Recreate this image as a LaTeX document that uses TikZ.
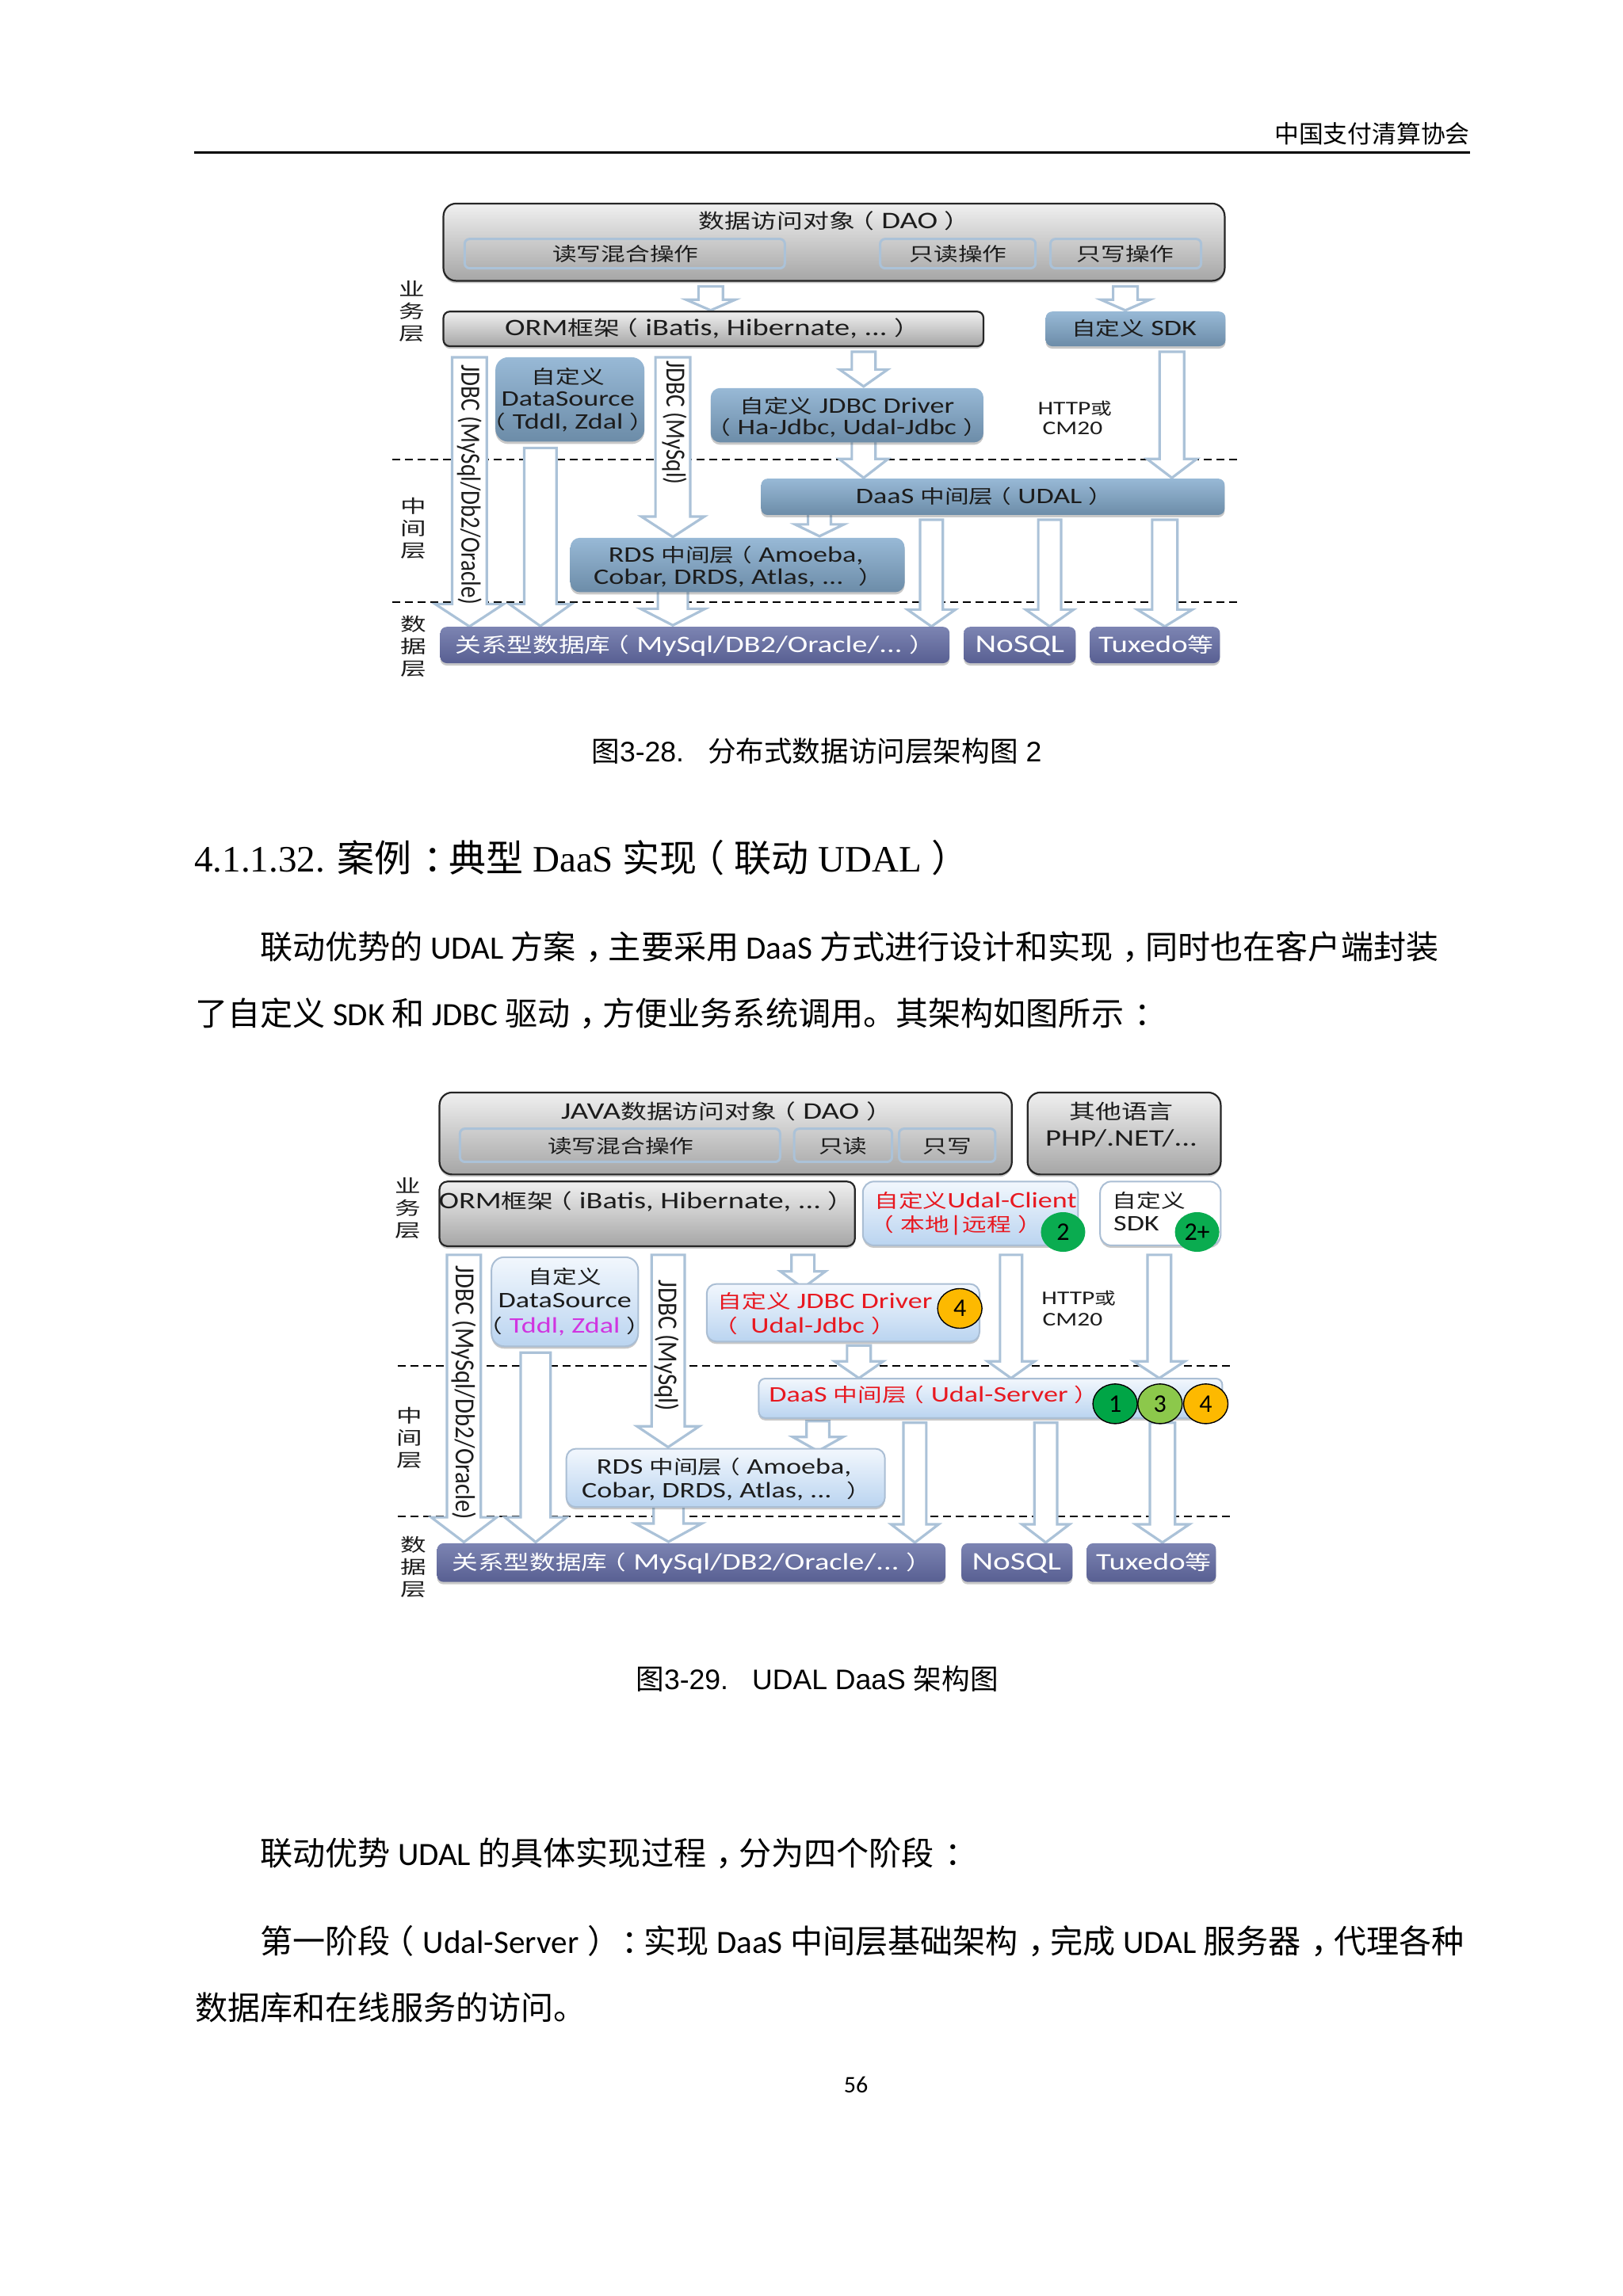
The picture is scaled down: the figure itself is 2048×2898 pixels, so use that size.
\documentclass[tikz,border=0pt]{standalone}
\usepackage{fontspec}
\usepackage{graphicx}
\usetikzlibrary{shapes.geometric,shadows}
\setmainfont{Carlito}
\newfontfamily\libserif{Liberation Serif}
\newfontfamily\libsans{Liberation Sans}
\newfontfamily\cjkmain{Noto Sans CJK SC}
\newfontfamily\cjkdiag[Scale=0.85]{Noto Sans CJK SC}
\let\cjkcur\cjkmain
% automatic font switching for CJK characters
\newXeTeXintercharclass\cjkclass
\newcount\chrloop
\chrloop="3000 \loop\ifnum\chrloop<"3040 \XeTeXcharclass\chrloop=\cjkclass \advance\chrloop by 1 \repeat
\chrloop="4E00 \loop\ifnum\chrloop<"A000 \XeTeXcharclass\chrloop=\cjkclass \advance\chrloop by 1 \repeat
\chrloop="FF00 \loop\ifnum\chrloop<"FFF0 \XeTeXcharclass\chrloop=\cjkclass \advance\chrloop by 1 \repeat
\XeTeXinterchartoks 0 \cjkclass={\begingroup\cjkcur}
\XeTeXinterchartoks 4095 \cjkclass={\begingroup\cjkcur}
\XeTeXinterchartoks \cjkclass 0={\endgroup}
\XeTeXinterchartoks \cjkclass 4095={\endgroup}
\XeTeXinterchartokenstate=1
% fullwidth punctuation with its ink centred in the em box, as printed
\newcommand\LPar{{\cjkcur\kern-.27em（\kern.27em}}
\newcommand\RPar{{\cjkcur\kern.27em）\kern-.27em}}
\newcommand\CMa{{\cjkcur\kern.3em，\kern-.3em}}
\newcommand\CLn{{\cjkcur\kern.32em：\kern-.32em}}
\definecolor{arrowc}{HTML}{ABC2D8}
\definecolor{txtc}{HTML}{1C1C1C}
\definecolor{redt}{HTML}{E81820}
\definecolor{magt}{HTML}{D035E0}
\tikzset{
 softshadow/.style={drop shadow={shadow xshift=0pt,shadow yshift=-1.5pt,opacity=.3,fill=black!70}},
 graybox/.style={rectangle,draw=black!85,line width=1.1pt,top color=black!6,bottom color=black!35,softshadow},
 bluebox/.style={rectangle,top color={rgb,255:red,152;green,185;blue,214},bottom color={rgb,255:red,108;green,140;blue,168},softshadow},
 lightbox/.style={rectangle,draw={rgb,255:red,170;green,190;blue,212},line width=1pt,top color={rgb,255:red,242;green,247;blue,253},bottom color={rgb,255:red,186;green,212;blue,240},softshadow},
 whitebox/.style={rectangle,draw={rgb,255:red,170;green,190;blue,212},line width=1pt,fill=white,softshadow},
 dbbox/.style={rectangle,top color={rgb,255:red,124;green,132;blue,178},bottom color={rgb,255:red,88;green,95;blue,146},softshadow},
 innerbox/.style={rectangle,draw=arrowc,line width=1.5pt},
 dtxt/.style={anchor=base,inner sep=0pt,text=txtc,font=\fontsize{14}{16}\selectfont\let\cjkcur\cjkdiag},
 ttxt/.style={dtxt,font=\fontsize{15}{17}\selectfont\let\cjkcur\cjkdiag},
 ormtxt/.style={dtxt,font=\fontsize{14.9}{17}\selectfont\let\cjkcur\cjkdiag},
 dbtxt/.style={dtxt,text=white,font=\fontsize{14.9}{17}\selectfont\let\cjkcur\cjkdiag},
 dbbig/.style={dtxt,text=white,font=\fontsize{16}{18}\selectfont\let\cjkcur\cjkdiag},
 dbmid/.style={dtxt,text=white,font=\fontsize{15}{18}\selectfont\let\cjkcur\cjkdiag},
 stxt/.style={dtxt,font=\fontsize{12.2}{14}\selectfont\let\cjkcur\cjkdiag},
 rtxt/.style={anchor=center,inner sep=0pt,rotate=-90,text=txtc,font=\fontsize{13.5}{16}\selectfont},
 sidetxt/.style={anchor=center,inner sep=0pt,text=txtc,font=\fontsize{13.5}{14}\selectfont\let\cjkcur\cjkdiag},
 badge/.style={ellipse,inner sep=0pt,minimum width=28pt,minimum height=25pt,text=black,font=\fontsize{16}{18}\selectfont},
 blockarrow/.style={draw=arrowc,fill=white,line width=1.6pt,line join=miter},
 layerline/.style={draw=black,line width=.9pt,dash pattern=on 5pt off 3pt},
 bodytxt/.style={anchor=base west,inner sep=0pt,text=black,font=\fontsize{20.55}{24}\selectfont},
 captxt/.style={anchor=base west,inner sep=0pt,text=black,font=\fontsize{17.8}{22}\selectfont\libsans},
 headtxt/.style={anchor=base west,inner sep=0pt,text=black,font=\fontsize{23.5}{28}\selectfont\libserif},
}
\newcounter{lbl}
% box: name, style, x1,y1,x2,y2
\newcommand\bx[7][4pt]{\node[#3,rounded corners=#1,inner sep=0pt,minimum width={(#6-#4)*0.4974pt},minimum height={(#7-#5)*0.4975pt}] (#2) at ({(#4+#6)/2},{(#5+#7)/2}) {};}
% text line: style, x, y(centre), text
\newcommand\tl[5][1.29]{\stepcounter{lbl}\node[#2] (L\arabic{lbl}) at (#3,{#4+9}) {\scalebox{#1}[1]{#5}};}
% rotated text: x, y, along-scale, text
\newcommand\rt[4]{\stepcounter{lbl}\node[rtxt] (L\arabic{lbl}) at (#1,#2) {\scalebox{#3}[1.29]{#4}};}
% side label
\newcommand\sd[5]{\stepcounter{lbl}\node[sidetxt] (L\arabic{lbl}) at (#1,#2) {\scalebox{1.42}[1]{\vbox{\baselineskip=14pt\hbox{#3}\hbox{#4}\hbox{#5}}}};}
% block arrow: name, x, ytop, yshaftend, ytip, shaft, head
\newcommand\barr[7]{\coordinate (#1-s) at (#2,#3);\coordinate (#1-t) at (#2,#5);
 \draw[blockarrow] ({#2-#6/2},#3) -- ({#2+#6/2},#3) -- ({#2+#6/2},#4) -- ({#2+#7/2},#4) -- (#1-t) -- ({#2-#7/2},#4) -- ({#2-#6/2},#4) -- cycle;}
\begin{document}
\begin{tikzpicture}[x=0.5pt,y=-0.5pt]
\useasboundingbox (0,0) rectangle (2048,2898);
\fill[white] (0,0) rectangle (2048,2898);
% page header
\node[anchor=base east,inner sep=0pt,font=\fontsize{15.4}{18}\selectfont] (hdr) at (1855,180) {中国支付清算协会};
\coordinate (ruleL) at (244.5,192.5); \coordinate (ruleR) at (1855,192.5);
\draw[line width=1.5pt] (ruleL) -- (ruleR);

%%%%%%%%%%%%%%%%%% diagram 1
\begin{scope}[x=0.4974pt,y=-0.4975pt,xshift=1.22pt,yshift=-0.6pt]
\coordinate (d1a) at (495,582); \coordinate (d1b) at (1569,582);
\coordinate (d1c) at (495,763); \coordinate (d1d) at (1569,763);
\draw[layerline] (d1a) -- (d1b); \draw[layerline] (d1c) -- (d1d);
\barr{a1}{899}{362}{379}{392.5}{31}{62}
\barr{a2}{1425}{362}{379}{392.5}{31}{62}
\barr{a3}{593}{452}{765}{793.5}{44}{87}
\barr{a4}{683}{567}{765}{793}{41}{79}
\barr{a5}{851}{452}{654}{680}{44}{80}
\barr{a6}{1093}{445}{467.5}{489}{30}{61}
\barr{a7}{1093}{558}{581}{605}{30}{62}
\barr{a8}{1484}{445}{581}{605}{31}{63}
\barr{a9}{1037}{648}{664}{679}{29}{62}
\barr{a10}{851}{748}{771}{792}{38}{82}
\barr{a11}{1179}{658}{772}{793.5}{29}{61}
\barr{a12}{1329}{658}{772}{793.5}{29}{61}
\barr{a13}{1475}{658}{772}{793.5}{32}{70}
\bx[8pt]{dao}{graybox}{560}{257}{1551}{355}
\bx[3pt]{in1}{innerbox}{587}{302}{993}{339}
\bx[3pt]{in2}{innerbox}{1114}{302}{1311}{339}
\bx[3pt]{in3}{innerbox}{1330}{302}{1521}{339}
\bx[4pt]{orm}{graybox}{560}{394}{1245}{438}
\bx[4pt]{sdk}{bluebox}{1324}{394}{1552}{438}
\bx[8pt]{ds}{bluebox}{626}{452}{815}{559}
\bx[6pt]{drv}{bluebox}{899}{491}{1245}{560}
\bx[4pt]{daas}{bluebox}{963}{606}{1551}{652}
\bx[6pt]{rds}{bluebox}{721}{681}{1145}{750}
\bx[4pt]{db}{dbbox}{556}{794}{1202}{840}
\bx[4pt]{nosql}{dbbox}{1220}{794}{1362}{840}
\bx[4pt]{tux}{dbbox}{1380}{794}{1545}{840}
\tl{ttxt}{1052}{280}{数据访问对象\LPar DAO\RPar}
\tl{dtxt}{791}{321}{读写混合操作}
\tl{dtxt}{1213}{321}{只读操作}
\tl{dtxt}{1425}{321}{只写操作}
\tl{ormtxt}{897}{415}{ORM框架\LPar iBatis, Hibernate, ...\RPar}
\tl{dtxt}{1436}{415}{自定义 SDK}
\tl{dtxt}{718}{477}{自定义}
\tl{dtxt}{718}{505}{DataSource}
\tl{dtxt}{718}{534}{\LPar Tddl, Zdal\RPar}
\tl{dtxt}{1072}{513.5}{自定义 JDBC Driver}
\tl{dtxt}{1072}{541}{\LPar Ha-Jdbc, Udal-Jdbc\RPar}
\tl{stxt}{1361}{516}{HTTP或}
\tl{stxt}{1358}{541}{CM20}
\tl{dtxt}{1242}{628}{DaaS 中间层\LPar UDAL\RPar}
\tl{dtxt}{931}{703}{RDS 中间层\LPar Amoeba,}
\tl{dtxt}{930}{731}{Cobar, DRDS, Atlas, ... \RPar}
\tl{dbtxt}{875}{817}{关系型数据库\LPar MySql/DB2/Oracle/...\RPar}
\tl{dbbig}{1291}{817}{NoSQL}
\tl{dbmid}{1464}{817}{Tuxedo等}
\rt{593}{614}{1.08}{JDBC (MySql/Db2/Oracle)}
\rt{853}{535}{1.08}{JDBC (MySql)}
\sd{520}{394}{业}{务}{层}
\sd{522}{669}{中}{间}{层}
\sd{522}{819}{数}{据}{层}
\end{scope}

%%%%%%%%%%%%%%%%%% diagram 2
\begin{scope}[x=0.4974pt,y=-0.4974pt,xshift=1.22pt,yshift=-3.53pt]
\coordinate (d2a) at (502,1726); \coordinate (d2b) at (1560,1726);
\coordinate (d2c) at (502,1917); \coordinate (d2d) at (1560,1917);
\draw[layerline] (d2a) -- (d2b); \draw[layerline] (d2c) -- (d2d);
\barr{b1}{586}{1585}{1918}{1949.5}{43}{83}
\barr{b2}{677}{1709}{1918}{1949.5}{38}{78}
\barr{b3}{845}{1585}{1802.5}{1829}{42}{79}
\barr{b4}{1016}{1585}{1606}{1627}{29}{57}
\barr{b5}{1087}{1700}{1720}{1741.5}{30}{62}
\barr{b6}{1280}{1585}{1720}{1741.5}{28}{60}
\barr{b7}{1468}{1585}{1720}{1741.5}{30}{65}
\barr{b8}{1035}{1796}{1816}{1834}{29}{64}
\barr{b9}{845.5}{1903}{1926}{1949}{38}{84}
\barr{b10}{1158}{1798}{1927}{1950}{29}{60}
\barr{b11}{1324}{1798}{1927}{1950}{29}{60}
\barr{b12}{1472}{1798}{1927}{1950}{32}{68}
\bx[8pt]{jdao}{graybox}{555}{1379}{1281}{1483}
\bx[3pt]{jin1}{innerbox}{581}{1425}{987}{1467}
\bx[3pt]{jin2}{innerbox}{1005}{1425}{1129}{1467}
\bx[3pt]{jin3}{innerbox}{1138}{1425}{1260}{1467}
\bx[8pt]{other}{graybox}{1301}{1379}{1546}{1483}
\bx[5pt]{jorm}{graybox}{555}{1492}{1082}{1574}
\bx[7pt]{client}{lightbox}{1092}{1492}{1365}{1573}
\bx[7pt]{jsdk}{whitebox}{1393}{1492}{1546}{1573}
\bx[8pt]{jds}{lightbox}{621}{1588}{807}{1701}
\bx[6pt]{jdrv}{lightbox}{894}{1622}{1240}{1695}
\bx[4pt]{jdaas}{lightbox}{960}{1742}{1548}{1792}
\bx[6pt]{jrds}{lightbox}{716}{1831}{1120}{1905}
\bx[4pt]{jdb}{dbbox}{552}{1951}{1197}{2000}
\bx[4pt]{jnosql}{dbbox}{1217}{1951}{1358}{2000}
\bx[4pt]{jtux}{dbbox}{1376}{1951}{1540}{2000}
\tl{ttxt}{915}{1404}{JAVA数据访问对象\LPar DAO\RPar}
\tl{dtxt}{785}{1447}{读写混合操作}
\tl{dtxt}{1067}{1447}{只读}
\tl{dtxt}{1199}{1447}{只写}
\tl{ttxt}{1420}{1404}{其他语言}
\tl{ttxt}{1420}{1438}{PHP/.NET/...}
\tl{ormtxt}{813}{1517}{ORM框架\LPar iBatis, Hibernate, ...\RPar}
\tl{dtxt,text=redt}{1235}{1516}{自定义Udal-Client}
\tl{dtxt,text=redt}{1210}{1546}{\LPar 本地|远程\RPar}
\tl{dtxt}{1455}{1516}{自定义}
\tl{dtxt}{1439}{1545}{SDK}
\tl{dtxt}{714}{1613}{自定义}
\tl{dtxt}{714}{1643}{DataSource}
\tl{dtxt}{714}{1675}{\LPar{\color{magt}Tddl, Zdal}\RPar}
\tl{dtxt,text=redt}{1044}{1644}{自定义 JDBC Driver}
\tl{dtxt,text=redt}{1018}{1675}{\LPar\ Udal-Jdbc\RPar}
\tl{stxt}{1366}{1639}{HTTP或}
\tl{stxt}{1358}{1666}{CM20}
\tl{dtxt,text=redt}{1178}{1763}{DaaS 中间层\LPar Udal-Server\RPar}
\tl{dtxt}{916}{1854}{RDS 中间层\LPar Amoeba,}
\tl{dtxt}{915}{1884}{Cobar, DRDS, Atlas, ... \RPar}
\tl{dbtxt}{871}{1976}{关系型数据库\LPar MySql/DB2/Oracle/...\RPar}
\tl{dbbig}{1287}{1976}{NoSQL}
\tl{dbmid}{1461}{1976}{Tuxedo等}
\rt{586}{1760}{1.14}{JDBC (MySql/Db2/Oracle)}
\rt{843}{1700}{1.145}{JDBC (MySql)}
\sd{515}{1526}{业}{务}{层}
\sd{517}{1817}{中}{间}{层}
\sd{522}{1981}{数}{据}{层}
\node[badge,fill={rgb,255:red,10;green,172;blue,80}] (c2) at (1346,1556) {2};
\node[badge,fill={rgb,255:red,10;green,172;blue,80}] (c2p) at (1516,1556) {2+};
\node[badge,draw=black,line width=.7pt,fill={rgb,255:red,253;green,185;blue,0}] (c4a) at (1215,1653) {4};
\node[badge,draw=black,line width=.7pt,fill={rgb,255:red,253;green,185;blue,0}] (c4b) at (1527,1774) {4};
\node[badge,draw=black,line width=.7pt,fill={rgb,255:red,140;green,200;blue,75}] (c3) at (1469,1774) {3};
\node[badge,draw=black,line width=.7pt,fill={rgb,255:red,0;green,165;blue,70}] (c1) at (1412,1774) {1};
\end{scope}

%%%%%%%%%%%%%%%%%% page text
\node[captxt] (cap1) at (746,961) {图3-28.\hspace{15pt}分布式数据访问层架构图 2};
\node[headtxt] (head) at (245,1100) {4.1.1.32. 案例\CLn 典型 DaaS 实现\LPar 联动 UDAL\RPar};
\node[bodytxt] (p1) at (328,1210) {联动优势的 UDAL 方案\CMa 主要采用 DaaS 方式进行设计和实现\CMa 同时也在客户端封装};
\node[bodytxt] (p2) at (246,1294) {了自定义 SDK 和 JDBC 驱动\CMa 方便业务系统调用。其架构如图所示\CLn};
\node[captxt] (cap2) at (802,2132) {图3-29.\hspace{15pt}UDAL DaaS 架构图};
\node[bodytxt] (p3) at (328,2354) {联动优势 UDAL 的具体实现过程\CMa 分为四个阶段\CLn};
\node[bodytxt] (p4) at (328,2465) {第一阶段\LPar Udal-Server\RPar\CLn 实现 DaaS 中间层基础架构\CMa 完成 UDAL 服务器\CMa 代理各种};
\node[bodytxt] (p5) at (246,2549) {数据库和在线服务的访问。};
\node[anchor=base,inner sep=0pt,font=\fontsize{15}{18}\selectfont] (pg) at (1080,2641) {56};
\end{tikzpicture}
\end{document}
